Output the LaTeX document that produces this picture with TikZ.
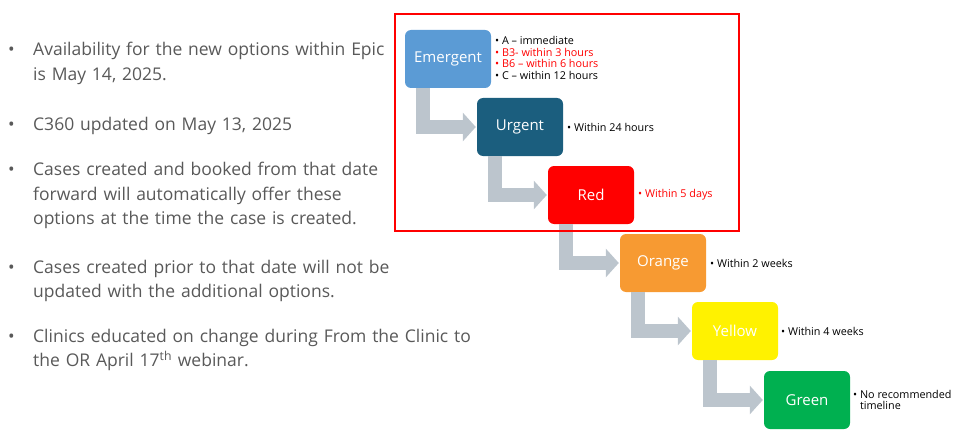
\documentclass[tikz,border=0pt]{standalone}
\usepackage{fontspec}
\setmainfont{Open Sans}
\usetikzlibrary{calc,arrows.meta}
\definecolor{txtgrey}{HTML}{595959}
\definecolor{arrgrey}{HTML}{BCC5CD}
\definecolor{cEm}{HTML}{5B9BD5}
\definecolor{cUr}{HTML}{1B5E7E}
\definecolor{cOr}{HTML}{F79A32}
\definecolor{cGr}{HTML}{00B050}
\tikzset{
 lvl/.style={rounded corners=6pt, minimum width=86pt, minimum height=58pt, text=white, font=\fontsize{15}{17}\selectfont, inner sep=0pt},
 flow/.style={draw=arrgrey, line width=14pt, -{Triangle[width=28pt,length=13pt]}, shorten >=1pt},
 lab/.style={anchor=west, font=\fontsize{10.8}{11.6}\selectfont, align=left, inner sep=0pt},
 bul/.style={anchor=north west, font=\fontsize{17.5}{24.5}\selectfont, text=txtgrey, text width=470pt, align=left, inner sep=0pt}
}
\begin{document}
\begin{tikzpicture}[x=1pt,y=-1pt]
\useasboundingbox (0,0) rectangle (960,441);
\node[lvl, fill=cEm] (em) at (448,59) {Emergent};
\node[lvl, fill=cUr] (ur) at (520,127) {Urgent};
\node[lvl, fill=red] (rd) at (591,195) {Red};
\node[lvl, fill=cOr] (or) at (663,263) {Orange};
\node[lvl, fill=yellow] (ye) at (735,331) {Yellow};
\node[lvl, fill=cGr] (gr) at (807,400) {Green};
\foreach \a/\b in {em/ur, ur/rd, rd/or, or/ye, ye/gr}
  \draw[flow] ($(\a.south west)+(18,0)$) |- (\b.west);
\node[draw=red, line width=2.5pt, minimum width=344pt, minimum height=217pt, inner sep=0pt] (frame) at (567,122.5) {};
\node[lab] (le) at (495,58) {\textbullet\ A – immediate\\\textcolor{red}{\textbullet\ B3- within 3 hours}\\\textcolor{red}{\textbullet\ B6 – within 6 hours}\\\textbullet\ C – within 12 hours};
\node[lab] (lu) at (567,127) {\textbullet\ Within 24 hours};
\node[lab, text=red] (lr) at (638,195) {\textbullet\ Within 5 days};
\node[lab] (lo) at (710,263) {\textbullet\ Within 2 weeks};
\node[lab] (ly) at (781,331) {\textbullet\ Within 4 weeks};
\node[lab] (lg) at (853,400) {\textbullet\ No recommended\\\phantom{\textbullet\ }timeline};
\foreach \n/\y/\t in {
 b1/42/{Availability for the new options within Epic\\is May 14, 2025.},
 b2/117/{C360 updated on May 13, 2025},
 b3/162/{Cases created and booked from that date\\forward will automatically offer these\\options at the time the case is created.},
 b4/260/{Cases created prior to that date will not be\\updated with the additional options.},
 b5/329/{Clinics educated on change during From the Clinic to\\the OR April 17\textsuperscript{th} webinar.}}
{
 \node[bul] (\n) at (33,\y) {\t};
 \node[anchor=base west, inner sep=0pt, text=txtgrey, font=\fontsize{17.5}{24.5}\selectfont] (\n d) at ($(\n.base west)+(-25,0)$) {•};
}
\end{tikzpicture}
\end{document}
